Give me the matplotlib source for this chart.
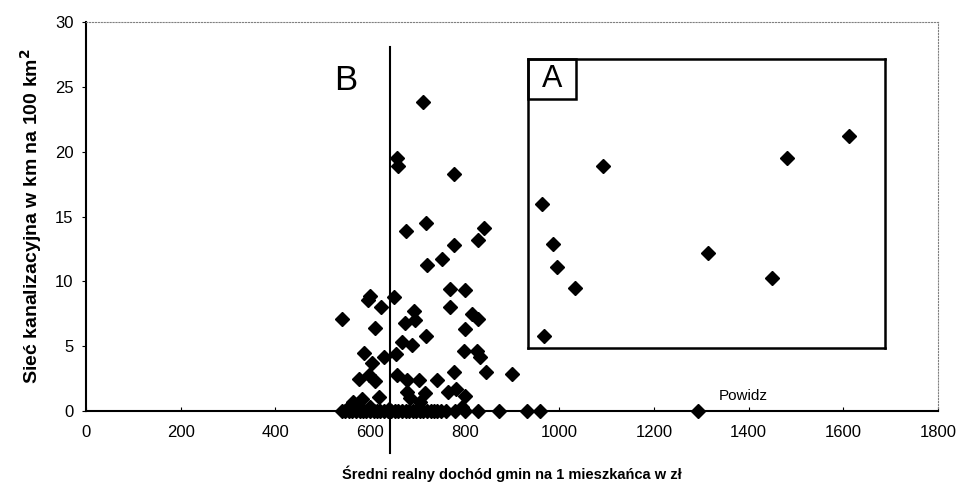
import matplotlib.pyplot as plt
from matplotlib.patches import Rectangle

plt.rcParams['font.family'] = ['Liberation Sans', 'DejaVu Sans']

# gminy - dochod (x) i siec kanalizacyjna (y)
dochod = [712, 657, 659, 777, 719, 677, 840, 829, 777, 752, 720, 770, 801,
          600, 595, 650, 623, 770, 540, 692, 695, 674, 815, 829, 611, 719,
          801, 668, 689, 587, 630, 655, 604, 798, 826, 833, 777, 845, 899,
          576, 597, 611, 657, 678, 703, 742, 717, 764, 782, 801, 618, 565,
          583, 678, 685, 706, 794, 555, 575, 600, 640]
siec = [23.8, 19.5, 18.9, 18.3, 14.5, 13.9, 14.1, 13.2, 12.8, 11.7, 11.3, 9.4,
        9.3, 8.9, 8.6, 8.8, 8.0, 8.0, 7.1, 7.7, 7.0, 6.8, 7.5, 7.1, 6.4, 5.8,
        6.3, 5.3, 5.1, 4.5, 4.2, 4.4, 3.7, 4.6, 4.6, 4.2, 3.0, 3.0, 2.9,
        2.5, 2.8, 2.3, 2.8, 2.4, 2.4, 2.4, 1.4, 1.5, 1.7, 1.2, 1.1, 0.7,
        0.9, 1.5, 1.0, 0.7, 0.3, 0.3, 0.4, 0.3, 0.2]

# gminy bez sieci (y = 0)
dochod_zero = [540, 548, 555, 562, 570, 578, 585, 592, 600, 608, 615, 622,
               630, 638, 645, 652, 660, 668, 675, 682, 690, 697, 705, 712,
               720, 728, 735, 742, 750, 760, 780, 800, 829, 873, 932, 960]
siec_zero = [0] * len(dochod_zero)

# Powidz
powidz_x = 1294
powidz_y = 0

# grupa A (ramka)
dochod_A = [964, 987, 996, 1034, 968, 1093, 1315, 1450, 1482, 1613]
siec_A = [16.0, 12.9, 11.1, 9.5, 5.8, 18.9, 12.2, 10.3, 19.5, 21.2]

prog = 643  # granica grupy B

fig = plt.figure(figsize=(9.59, 4.86), dpi=100)
ax = fig.add_axes([0.0897, 0.154, 0.8884, 0.801])

mk = dict(marker='D', color='black', markersize=7.5, linestyle='none')
ax.plot(dochod, siec, **mk)
ax.plot(dochod_zero, siec_zero, clip_on=False, **mk)
ax.plot([powidz_x], [powidz_y], clip_on=False, **mk)
ax.text(powidz_x + 95, powidz_y + 1.2, 'Powidz', fontsize=11, ha='center', va='center')

ax.set_xlim(0, 1800)
ax.set_ylim(0, 30)
ax.set_xticks(range(0, 1801, 200))
ax.set_yticks(range(0, 31, 5))
ax.tick_params(axis='both', labelsize=12, colors='black')
ax.tick_params(axis='y', direction='out', length=3, pad=6)
ax.tick_params(axis='x', direction='in', length=3, pad=10)

for s in ['left', 'bottom']:
    ax.spines[s].set_linewidth(1.5)
for s in ['top', 'right']:
    ax.spines[s].set_linestyle(':')
    ax.spines[s].set_color('gray')
    ax.spines[s].set_linewidth(0.8)

# linia progu
ax.plot([prog, prog], [-3.2, 28.1], color='black', linewidth=1.5, clip_on=False)
ax.text(548, 25.5, 'B', fontsize=25, ha='center', va='center')

# ramka A
axA = ax.inset_axes([934, 4.86, 754, 22.3], transform=ax.transData)
axA.plot(dochod_A, siec_A, **mk)
axA.set_xlim(934, 1688)
axA.set_ylim(4.86, 27.16)
axA.set_xticks([])
axA.set_yticks([])
for s in axA.spines.values():
    s.set_linewidth(1.8)
axA.add_patch(Rectangle((0, 0.862), 0.134, 0.138, transform=axA.transAxes,
                        facecolor='white', edgecolor='black', linewidth=1.8, clip_on=False))
axA.text(0.067, 0.931, 'A', transform=axA.transAxes, fontsize=22, ha='center', va='center')

ax.set_xlabel('Średni realny dochód gmin na 1 mieszkańca w zł', fontsize=10.5,
              fontweight='bold', labelpad=18)
ax.set_ylabel('Sieć kanalizacyjna w km na 100 km$^\\mathbf{2}$', fontsize=14,
              fontweight='bold', labelpad=8)

plt.savefig('out.png', dpi=100)
plt.close()
